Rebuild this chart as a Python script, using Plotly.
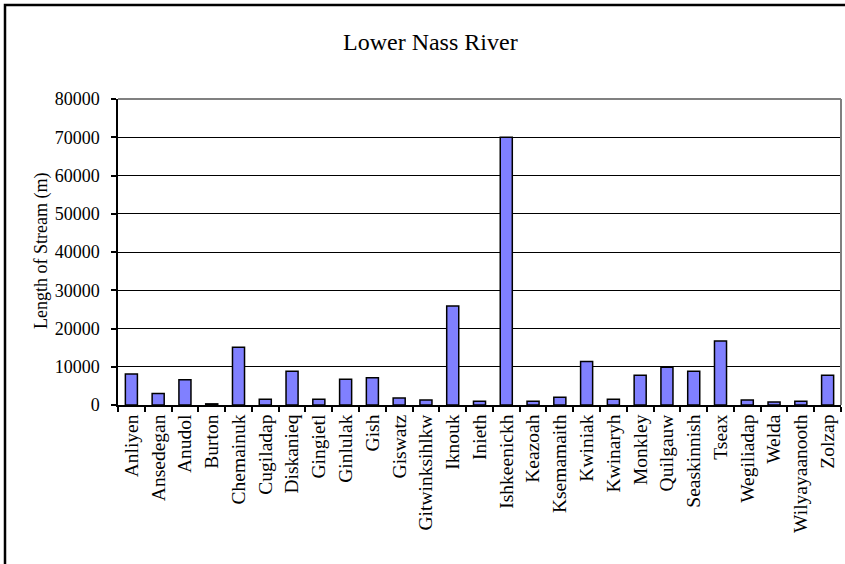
import plotly.graph_objects as go

streams = ["Anliyen", "Ansedegan", "Anudol", "Burton", "Chemainuk", "Cugiladap",
           "Diskanieq", "Gingietl", "Ginlulak", "Gish", "Giswatz", "Gitwinksihlkw",
           "Iknouk", "Inieth", "Ishkeenickh", "Keazoah", "Ksemamaith", "Kwiniak",
           "Kwinaryh", "Monkley", "Quilgauw", "Seaskinnish", "Tseax", "Wegiliadap",
           "Welda", "Wilyayaanooth", "Zolzap"]
lengths_m = [8100, 3000, 6600, 300, 15100, 1500,
             8800, 1500, 6700, 7100, 1800, 1300,
             25900, 1000, 70000, 1000, 2000, 11400,
             1500, 7800, 9900, 8800, 16700, 1300,
             800, 1000, 7800]
y_ticks = [0, 10000, 20000, 30000, 40000, 50000, 60000, 70000, 80000]

FONT = "Liberation Serif, Times New Roman, serif"

fig = go.Figure(go.Bar(
    x=streams, y=lengths_m,
    marker=dict(color="#8080FF", line=dict(color="black", width=1.5)),
))

L, R, T, B = 118, 4, 99, 159
W, H = 845, 564
pw, ph = W - L - R, H - T - B

fig.update_layout(
    width=W, height=H,
    margin=dict(l=L, r=R, t=T, b=B, pad=0),
    paper_bgcolor="white", plot_bgcolor="white",
    bargap=0.55,
    showlegend=False,
    font=dict(family=FONT, color="black", size=17),
    xaxis=dict(
        type="category", tickangle=-90, automargin=False,
        showline=True, linecolor="black", linewidth=1.5,
        ticks="outside", tickson="boundaries", ticklen=5, tickcolor="black", tickwidth=1.5,
        tickfont=dict(family=FONT, size=19.5), showgrid=False,
    ),
    yaxis=dict(
        range=[0, 80000], tickvals=y_ticks, ticktext=[str(v) for v in y_ticks],
        automargin=False,
        showline=True, linecolor="black", linewidth=1.5,
        ticks="outside", ticklen=5, tickcolor="black", tickwidth=1.5,
        showgrid=True, gridcolor="black", gridwidth=1, zeroline=False,
        tickfont=dict(family=FONT, size=18), ticklabelstandoff=8,
    ),
)

# plot area border (top/right grey)
fig.add_shape(type="line", xref="paper", yref="paper", x0=0, x1=1, y0=1, y1=1,
              line=dict(color="#808080", width=2), layer="above")
fig.add_shape(type="line", xref="paper", yref="paper", x0=1, x1=1, y0=0, y1=1,
              line=dict(color="#808080", width=2), layer="above")
# outer chart frame
fig.add_shape(type="rect", xref="paper", yref="paper",
              x0=(5 - L) / pw, x1=(W + 20 - L) / pw,
              y0=-(H + 20 - (H - B)) / ph, y1=(H - B - 5) / ph,
              line=dict(color="black", width=2.5), fillcolor="rgba(0,0,0,0)")

fig.add_annotation(text="Lower Nass River", xref="paper", yref="paper",
                   x=(430 - L) / pw, y=(H - B - 42) / ph, showarrow=False,
                   xanchor="center", yanchor="middle",
                   font=dict(family=FONT, size=24, color="black"))

fig.add_annotation(text="Length of Stream (m)", xref="paper", yref="paper",
                   x=(41 - L) / pw, y=(H - B - 251) / ph, showarrow=False,
                   textangle=-90, xanchor="center", yanchor="middle",
                   font=dict(family=FONT, size=18, color="black"))

fig.write_html("out.html", config={"displayModeBar": False},
               post_script="document.body.style.margin='0';")
